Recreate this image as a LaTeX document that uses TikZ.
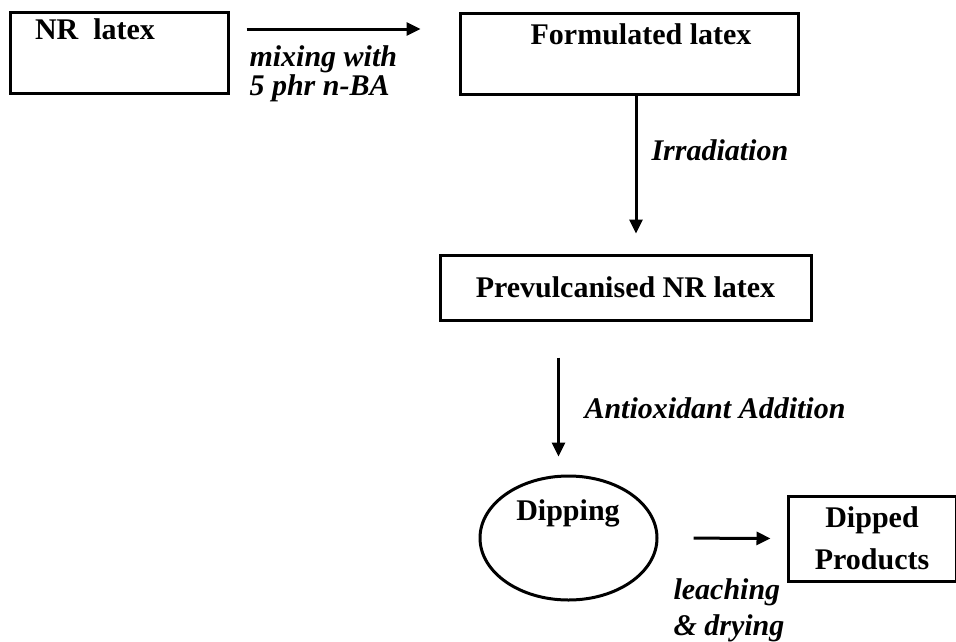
\documentclass[tikz,border=0pt]{standalone}
\usepackage{fontspec}
\setmainfont{Liberation Serif}
\usetikzlibrary{arrows.meta,shapes.geometric}

\begin{document}
\begin{tikzpicture}[x=1pt,y=-1pt,font=\fontsize{30}{33}\selectfont\bfseries,
  blk/.style={draw,line width=3pt,minimum width=#1,inner sep=0pt},
  arr/.style={line width=3pt,-{Triangle[length=14pt,width=13pt]}},
  lbl/.style={font=\fontsize{30}{29}\selectfont\bfseries\itshape,align=left,anchor=west}]
\useasboundingbox (0,0) rectangle (956,641);
% boxes
\node[blk=218pt,minimum height=81pt] (nr) at (119,52.5) {};
\node (nrt) at (95,29) {NR\ \ latex};
\node[blk=338pt,minimum height=81pt] (form) at (629,53.5) {};
\node (formt) at (641,34) {Formulated latex};
\node[blk=371pt,minimum height=65pt] (prev) at (625.5,287.5) {Prevulcanised NR latex};
\node[ellipse,draw,line width=3pt,minimum width=177pt,minimum height=124pt,inner sep=0pt] (dip) at (568.5,538) {};
\node (dipt) at (568,513) {Dipping};
\node[blk=168pt,minimum height=85pt,align=center,font=\fontsize{30}{42}\selectfont\bfseries] (prods) at (872,538.5) {Dipped\\Products};
% arrows
\draw[arr,shorten <=17pt,shorten >=38pt] (nrt -| nr.east) -- (nrt -| form.west);
\draw[arr,shorten >=20pt] ([xshift=7pt]form.south) -- ([xshift=7pt]form.south |- prev.north);
\draw[arr,shorten <=36pt,shorten >=18pt] ([xshift=-67pt]prev.south) -- ([xshift=-67pt]prev.south |- dip.north);
\draw[arr,shorten <=35pt,shorten >=16pt] (dip.east) -- (prods.west);
% labels
\node[lbl] (mix) at (246,74) {mixing with\\5 phr n-BA};
\node[lbl] (irr) at (648,150) {Irradiation};
\node[lbl] (anti) at (581,408) {Antioxidant Addition};
\node[lbl,font=\fontsize{30}{36}\selectfont\bfseries\itshape] (leach) at (670,610) {leaching\\\& drying};
\end{tikzpicture}
\end{document}
